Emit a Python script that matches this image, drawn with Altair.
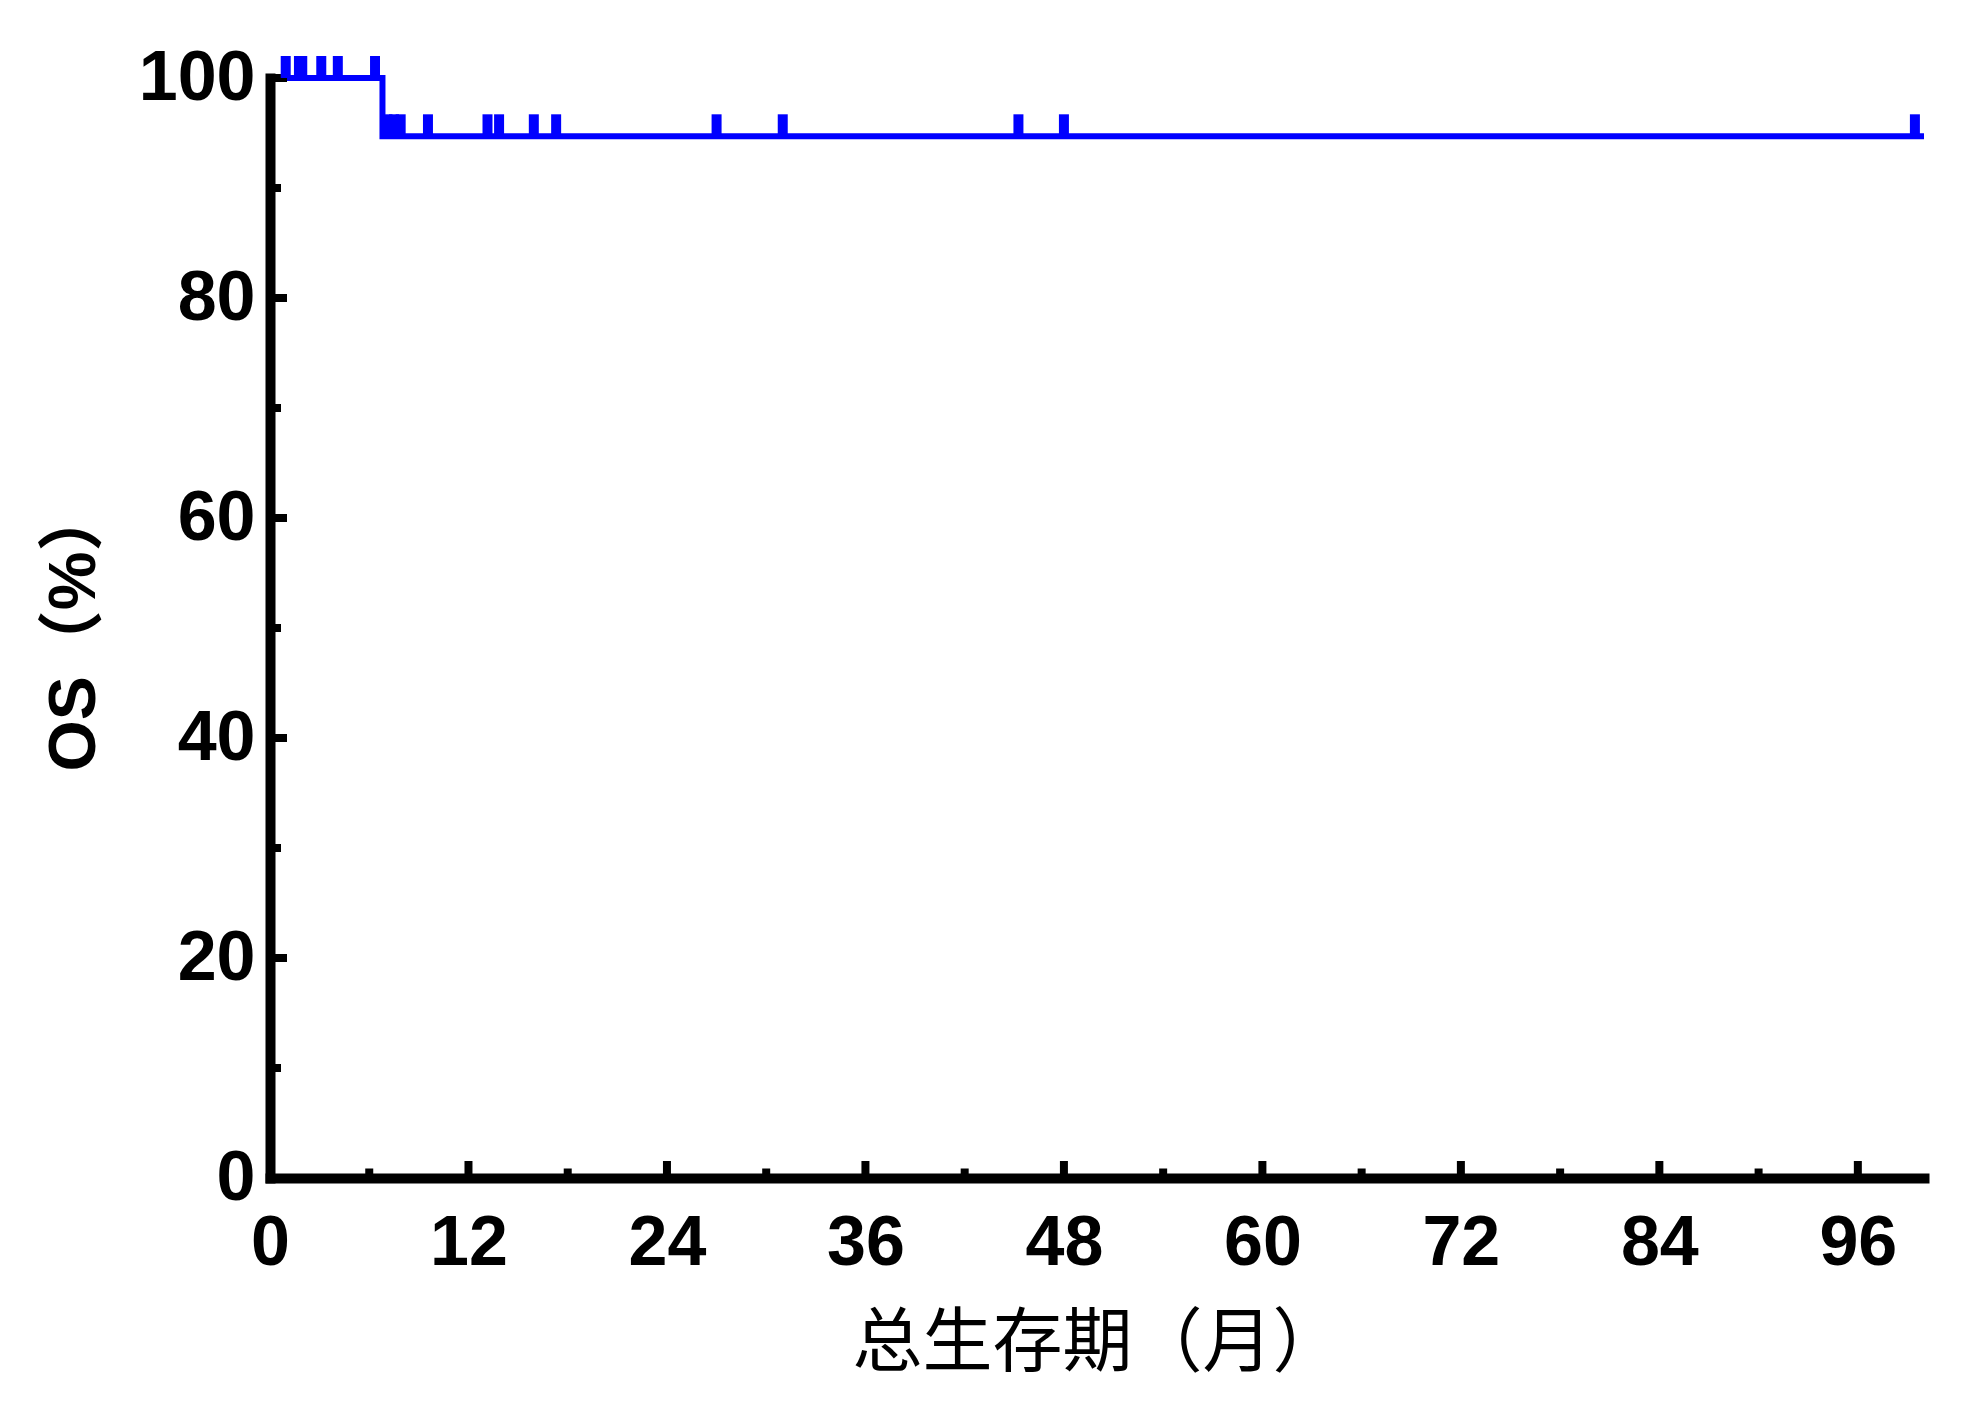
import altair as alt
import pandas as pd

# Kaplan-Meier step curve (months, OS %)
line_time = [0, 6.8, 100]
line_surv = [100, 94.7, 94.7]

# censored observations (months) and the survival level they sit on
censor_time = [0.95, 1.75, 1.95, 3.1, 4.1, 6.35,
               7.1, 7.5, 7.9, 9.55, 13.15, 13.85, 15.95, 17.3,
               27.0, 31.0, 45.25, 48.0, 99.45]
censor_surv = [100, 100, 100, 100, 100, 100,
               94.7, 94.7, 94.7, 94.7, 94.7, 94.7, 94.7, 94.7,
               94.7, 94.7, 94.7, 94.7, 94.7]

x_tick_values = [0, 12, 24, 36, 48, 60, 72, 84, 96]
x_major_ticks = [12, 24, 36, 48, 60, 72, 84, 96]
x_minor_ticks = [6, 18, 30, 42, 54, 66, 78, 90]
y_tick_values = [0, 20, 40, 60, 80, 100]
y_major_ticks = [20, 40, 60, 80, 100]
y_minor_ticks = [10, 30, 50, 70, 90]

W, H = 1654, 1100
BLUE = "#0000FF"
NUM_FONT = "Liberation Sans, Arial, Noto Sans CJK SC"

line_df = pd.DataFrame({"t": line_time, "s": line_surv})
cens_df = pd.DataFrame({"t": censor_time, "s": censor_surv})
xmaj_df = pd.DataFrame({"v": x_major_ticks})
xmin_df = pd.DataFrame({"v": x_minor_ticks})
ymaj_df = pd.DataFrame({"v": y_major_ticks})
ymin_df = pd.DataFrame({"v": y_minor_ticks})

xscale = alt.Scale(domain=[0, 100], nice=False, zero=False)
yscale = alt.Scale(domain=[0, 100], nice=False)

x_axis = alt.Axis(
    values=x_tick_values, ticks=False, tickSize=0, grid=False,
    domainColor="black", domainWidth=10, domainCap="square",
    labelFont=NUM_FONT, labelFontSize=70, labelFontWeight="bold",
    labelColor="black", labelPadding=31, labelFlush=False,
    title="总生存期（月）", titleFont="Noto Sans CJK SC", titleFontSize=70,
    titleFontWeight="normal", titleColor="black",
    titleY=187, titleBaseline="alphabetic",
)
y_axis = alt.Axis(
    values=y_tick_values, ticks=False, tickSize=0, grid=False,
    domainColor="black", domainWidth=10, domainCap="square",
    labelFont=NUM_FONT, labelFontSize=70, labelFontWeight="bold",
    labelColor="black", labelPadding=15, labelFlush=False,
    title="OS（%）", titleFont=NUM_FONT, titleFontSize=66,
    titleFontWeight="bold", titleColor="black",
    titleX=-176, titleBaseline="alphabetic",
)

km = alt.Chart(line_df).mark_line(
    interpolate="step-after", color=BLUE, strokeWidth=6
).encode(
    x=alt.X("t:Q", scale=xscale, axis=x_axis),
    y=alt.Y("s:Q", scale=yscale, axis=y_axis),
)

x_major = alt.Chart(xmaj_df).mark_rule(color="black", strokeWidth=8).encode(
    x=alt.X("v:Q", scale=xscale, axis=None),
    y=alt.value(H), y2=alt.value(H - 17),
)
x_minor = alt.Chart(xmin_df).mark_rule(color="black", strokeWidth=8).encode(
    x=alt.X("v:Q", scale=xscale, axis=None),
    y=alt.value(H), y2=alt.value(H - 9.5),
)
y_major = alt.Chart(ymaj_df).mark_rule(color="black", strokeWidth=8).encode(
    y=alt.Y("v:Q", scale=yscale, axis=None),
    x=alt.value(0), x2=alt.value(17),
)
y_minor = alt.Chart(ymin_df).mark_rule(color="black", strokeWidth=8).encode(
    y=alt.Y("v:Q", scale=yscale, axis=None),
    x=alt.value(0), x2=alt.value(11),
)

cens = alt.Chart(cens_df).mark_tick(
    orient="vertical", size=22, thickness=10, yOffset=-11, color=BLUE, opacity=1
).encode(
    x=alt.X("t:Q", scale=xscale, axis=None),
    y=alt.Y("s:Q", scale=yscale, axis=None),
)

chart = alt.layer(km, x_major, x_minor, y_major, y_minor, cens).resolve_axis(
    x="independent", y="independent"
).properties(
    width=W, height=H,
    autosize=alt.AutoSizeParams(type="none"),
    padding={"left": 262, "top": 70, "right": 30, "bottom": 215},
    background="white",
).configure_view(stroke=None)

chart.save("out.html", embed_options={"renderer": "svg", "actions": False})
